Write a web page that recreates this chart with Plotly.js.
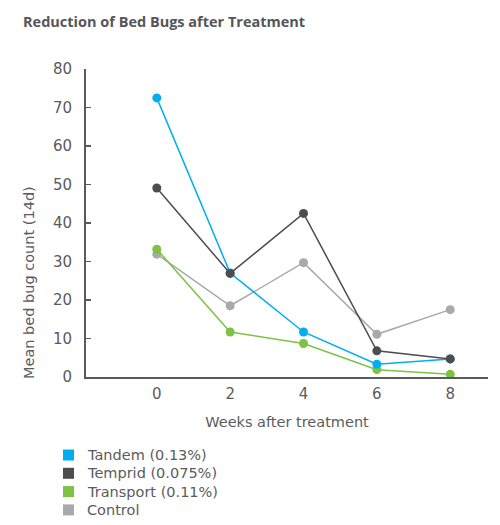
<!DOCTYPE html>
<html>
<head>
<meta charset="utf-8">
<script src="https://cdn.plot.ly/plotly-3.0.1.min.js"></script>
<style>
  html, body { margin: 0; padding: 0; background: #fff; }
  #chart { width: 500px; height: 525px; }
</style>
</head>
<body>
<div id="chart"></div>
<script>
// ── Dados ─────────────────────────────────────────────
const weeks = [0, 2, 4, 6, 8];

const tandem    = [72.5, 27.0, 11.7, 3.3, 4.7];
const temprid   = [49.1, 26.9, 42.5, 6.8, 4.7];
const transport = [33.2, 11.7, 8.7, 1.9, 0.7];
const control   = [31.9, 18.5, 29.7, 11.1, 17.5];

const seriesNames = ['Tandem (0.13%)', 'Temprid (0.075%)', 'Transport (0.11%)', 'Control'];
const seriesData  = [tandem, temprid, transport, control];
const colors      = ['#00AEEF', '#4D4D4F', '#7DC242', '#A7A9AC'];

// ordem de desenho: control atrás, temprid por cima de tudo
const drawOrder = [3, 2, 0, 1];

const FONT  = 'DejaVu Sans, sans-serif';
const TFONT = 'Open Sans, sans-serif';
const GREY  = '#5A5B5D';

// ── Geometria (px -> paper) ───────────────────────────
const W = 500, H = 525;
const M = { t: 69, b: 148, l: 86, r: 12 };
const plotW = W - M.l - M.r;
const plotH = H - M.t - M.b;
const px = (x) => (x - M.l) / plotW;
const py = (y) => (H - M.b - y) / plotH;

const lineTraces = drawOrder.map((i) => ({
  x: weeks, y: seriesData[i],
  name: seriesNames[i],
  type: 'scatter',
  mode: 'lines+markers',
  line:   { color: colors[i], width: 1.5 },
  marker: { color: colors[i], size: 9 },
  hoverinfo: 'skip',
}));

// legenda manual: quadrado + texto, espaçamento igual ao original
const LEG_Y0 = 455, LEG_DY = 18.3;

const legendShapes = seriesNames.map((_, i) => ({
  type: 'rect', xref: 'paper', yref: 'paper',
  x0: px(63), x1: px(74),
  y0: py(LEG_Y0 + i * LEG_DY - 5.5), y1: py(LEG_Y0 + i * LEG_DY + 5.5),
  fillcolor: colors[i], line: { width: 0 },
}));

const legendLabels = seriesNames.map((name, i) => ({
  text: name,
  xref: 'paper', yref: 'paper',
  x: px(85), y: py(LEG_Y0 + i * LEG_DY),
  xanchor: 'left', yanchor: 'middle',
  showarrow: false,
  font: { size: 14.5, color: GREY },
}));

const layout = {
  width: W, height: H,
  paper_bgcolor: '#fff',
  plot_bgcolor:  '#fff',
  font: { family: FONT, color: GREY, size: 14.5 },
  margin: M,
  showlegend: false,
  title: {
    text: '<b>Reduction of Bed Bugs after Treatment</b>',
    font: { family: TFONT, size: 14.5, color: '#555658' },
    x: 23 / W, xanchor: 'left',
    y: 1 - 22 / H, yanchor: 'middle',
  },
  xaxis: {
    range: [-1.93, 9.03],
    tickvals: weeks,
    ticktext: weeks.map(String),
    showgrid: false, zeroline: false,
    showline: true, linecolor: '#58595B', linewidth: 2,
    ticks: '',
    ticklabelstandoff: 2,
    tickfont: { size: 15, color: GREY },
    title: { text: 'Weeks after treatment', font: { size: 14.5, color: GREY }, standoff: 15 },
  },
  yaxis: {
    range: [0, 80],
    dtick: 10,
    showgrid: false, zeroline: false,
    showline: true, linecolor: '#58595B', linewidth: 2,
    ticks: 'inside', ticklen: 5, tickwidth: 1.5, tickcolor: '#58595B',
    ticklabelstandoff: 9,
    tickfont: { size: 15, color: GREY },
  },
  shapes: legendShapes,
  annotations: [
    // título do eixo y deslocado para baixo, como no original
    {
      text: 'Mean bed bug count (14d)',
      xref: 'paper', yref: 'paper',
      x: px(29), y: py(283),
      xanchor: 'center', yanchor: 'middle',
      textangle: -90,
      showarrow: false,
      font: { size: 14.5, color: GREY },
    },
    ...legendLabels,
  ],
};

Plotly.newPlot('chart', lineTraces, layout, { displayModeBar: false, staticPlot: true });
</script>
</body>
</html>
